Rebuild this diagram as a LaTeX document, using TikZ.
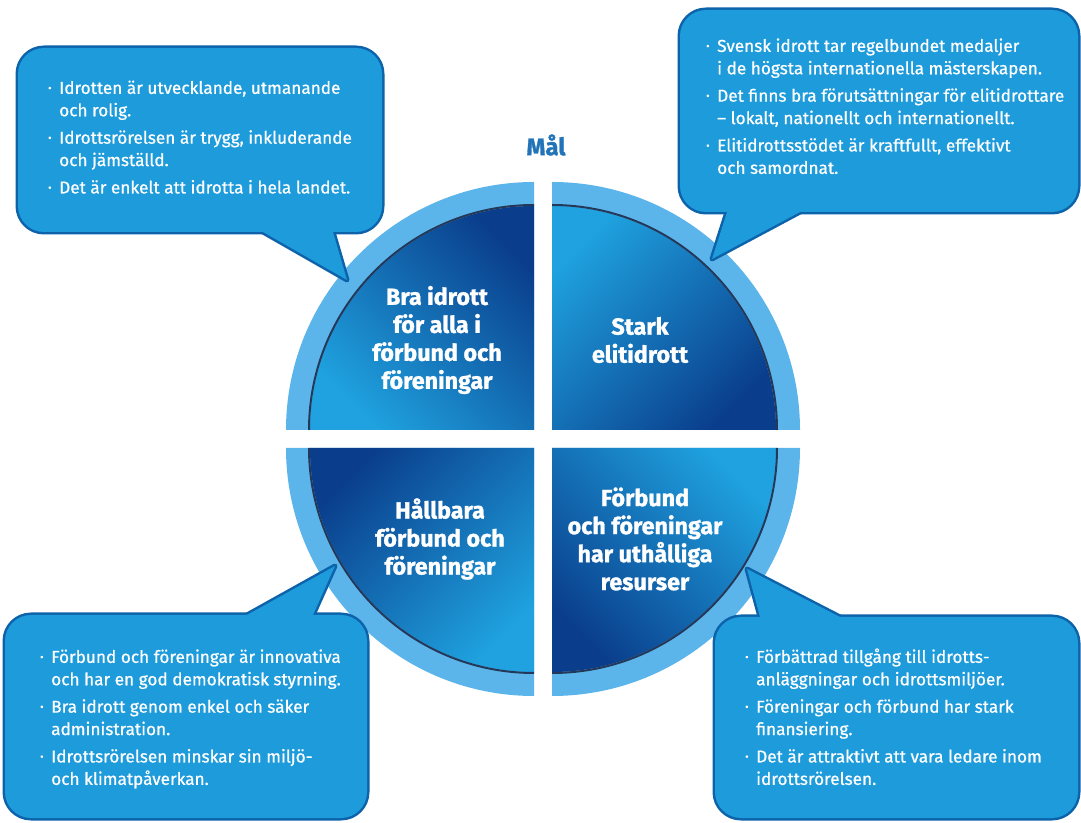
\documentclass[tikz,border=0pt]{standalone}
\usepackage{fontspec}
\setmainfont{Fira Sans}
\newfontfamily\semib{Fira Sans}[FakeBold=0.7]
\newfontfamily\heavy{Fira Sans}[BoldFeatures={FakeBold=1.2}]
\definecolor{bubblelight}{HTML}{1E9BDB}
\definecolor{bubbledark}{HTML}{0D63AA}
\definecolor{ringblue}{HTML}{5CB5EA}
\definecolor{innerlight}{HTML}{1FA2DF}
\definecolor{innerdark}{HTML}{0A3E8C}
\definecolor{rimline}{HTML}{24395A}
\definecolor{titleblue}{HTML}{2373B9}

\newcommand{\itm}{\strut\makebox[11pt][l]{\raisebox{.25ex}{\scalebox{.6}{\textbullet}}}}
\newcommand{\cnt}{\hspace*{11pt}}
% speech bubble: box corners, tail base, tail tip
\newcommand{\bubble}[5]{%
  \draw[bubble edge,rounded corners=26pt] #1 rectangle #2;
  \draw[bubble edge] #3 -- #5 -- #4 -- cycle;
  \fill[bubblelight,rounded corners=26pt] #1 rectangle #2;
  \fill[bubblelight] #3 -- #5 -- #4 -- cycle;}

\begin{document}
\begin{tikzpicture}[x=1pt,y=1pt,
    bubble edge/.style={draw=bubbledark,fill=bubbledark,line width=5pt,line join=round},
    bubble text/.style={anchor=north west,align=left,text=white,inner sep=0pt,font=\semib\fontsize{17.2}{22.4}\selectfont},
    quarter text/.style={align=center,text=white,font=\heavy\bfseries\fontsize{23.3}{28}\selectfont}]
    \useasboundingbox (0,0) rectangle (1081,822);

    % the four quarters
    \foreach \cx/\cy/\a/\sa in {534/392/90/-45, 552/392/0/-135, 534/374/180/45, 552/374/270/135} {
        \fill[ringblue] (\cx,\cy) -- ++(\a:248) arc (\a:\a+90:248) -- cycle;
        \shade[top color=innerdark,bottom color=innerlight,shading angle=\sa]
            (\cx,\cy) -- ++(\a:224) arc (\a:\a+90:224) -- cycle;
        \draw[rimline,line width=2pt] (\cx,\cy) ++(\a:225) arc (\a:\a+90:225);
    }

    \node[quarter text] (goal1) at (437,482) {Bra idrott\\ för alla i\\ förbund och\\ föreningar};
    \node[quarter text] (goal2) at (640,482) {Stark\\ elitidrott};
    \node[quarter text] (goal3) at (440,283) {Hållbara\\ förbund och\\ föreningar};
    \node[quarter text] (goal4) at (645,283) {Förbund\\ och föreningar\\ har uthålliga\\ resurser};

    \node[text=titleblue,font=\heavy\bfseries\fontsize{24}{28}\selectfont] (mal) at (546,677) {Mål};

    % bubbles
    \bubble{(18,590)}{(382,774)}{(263,590)}{(333,590)}{(347,542)}
    \bubble{(680,610)}{(1078,812)}{(727,610)}{(800,610)}{(712,563)}
    \bubble{(5,4)}{(367,207)}{(247,207)}{(313,207)}{(335,256)}
    \bubble{(715,4)}{(1078,205)}{(760,205)}{(840,205)}{(747,253)}

    \node[bubble text] (txt1) at (48,744) {\itm Idrotten är utvecklande, utmanande\\ \cnt och rolig.\\[5pt]
        \itm Idrottsrörelsen är trygg, inkluderande\\ \cnt och jämställd.\\[5pt]
        \itm Det är enkelt att idrotta i hela landet.};
    \node[bubble text] (txt2) at (706,786) {\itm Svensk idrott tar regelbundet medaljer\\ \cnt i de högsta internationella mästerskapen.\\[5pt]
        \itm Det finns bra förutsättningar för elitidrottare\\ \cnt – lokalt, nationellt och internationellt.\\[5pt]
        \itm Elitidrottsstödet är kraftfullt, effektivt\\ \cnt och samordnat.};
    \node[bubble text] (txt3) at (40,175) {\itm Förbund och föreningar är innovativa\\ \cnt och har en god demokratisk styrning.\\[5pt]
        \itm Bra idrott genom enkel och säker\\ \cnt administration.\\[5pt]
        \itm Idrottsrörelsen minskar sin miljö-\\ \cnt och klimatpåverkan.};
    \node[bubble text] (txt4) at (745,175) {\itm Förbättrad tillgång till idrotts-\\ \cnt anläggningar och idrottsmiljöer.\\[5pt]
        \itm Föreningar och förbund har stark\\ \cnt finansiering.\\[5pt]
        \itm Det är attraktivt att vara ledare inom\\ \cnt idrottsrörelsen.};
\end{tikzpicture}
\end{document}
